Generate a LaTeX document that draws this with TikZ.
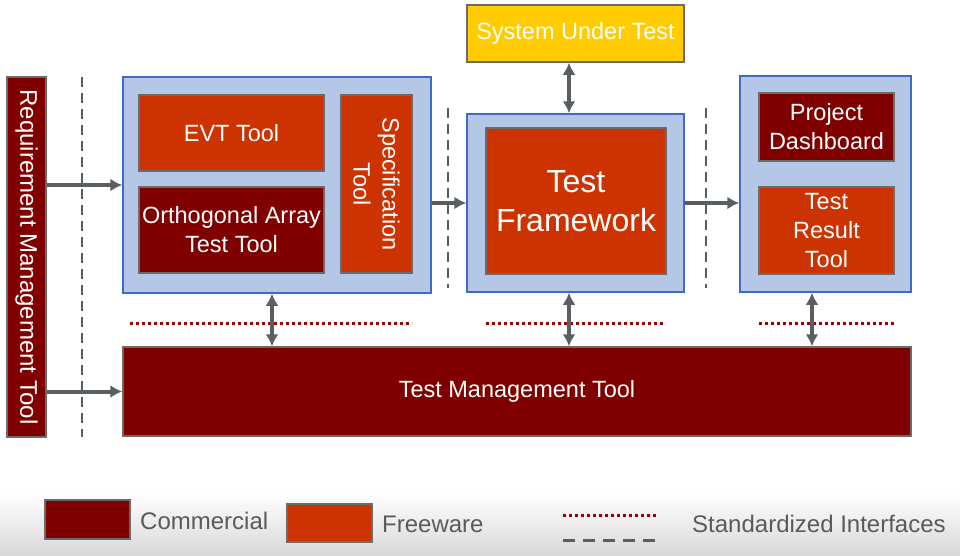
\documentclass[tikz,border=0pt]{standalone}
\usepackage{fontspec}
\setmainfont{Liberation Sans}
\usepackage{tikz}
\usetikzlibrary{arrows.meta}
\definecolor{commred}{HTML}{800000}
\definecolor{freeorange}{HTML}{CC3300}
\definecolor{groupblue}{HTML}{B4C7E7}
\definecolor{groupline}{HTML}{3E6CC0}
\definecolor{boxline}{HTML}{6B6B6B}
\definecolor{sutyellow}{HTML}{FFCC00}
\definecolor{arrowgray}{HTML}{595E62}
\definecolor{dotred}{HTML}{9A0000}
\definecolor{legendgray}{HTML}{5A5A5A}
\tikzstyle{tool}=[draw=boxline, line width=1.5pt, inner sep=0pt, text=white, align=center, font=\fontsize{23.5}{29}\selectfont]
\tikzstyle{commercial}=[tool, fill=commred]
\tikzstyle{freeware}=[tool, fill=freeorange]
\tikzstyle{group}=[draw=groupline, fill=groupblue, line width=1.5pt, inner sep=0pt]
\tikzstyle{arrow}=[draw=arrowgray, line width=4pt, >={Latex[length=12pt, width=13pt]}]
\tikzstyle{boundary}=[draw=arrowgray, line width=2pt, dash pattern=on 10pt off 6pt]
\tikzstyle{standard}=[draw=dotred, line width=3pt, dash pattern=on 3pt off 3pt]
\tikzstyle{legendtext}=[anchor=west, text=legendgray, inner sep=0pt, font=\fontsize{24}{29}\selectfont]

\begin{document}
\begin{tikzpicture}[x=1pt, y=-1pt]
		   \useasboundingbox (0, 0) rectangle (960, 555);
		   \shade [top color=white, bottom color=black!15] (0, 492) rectangle (960, 555);
		   % tools
		   \begin{scope}
			   \node (req) at (26.5, 257)[commercial, rotate=-90, minimum width=360pt, minimum height=39pt, font=\fontsize{24}{29}\selectfont] {Requirement Management Tool};
			   \node (left) at (277, 185)[group, minimum width=308pt, minimum height=216pt] {};
			   \node (evt) at (231.5, 133)[freeware, minimum width=185pt, minimum height=76pt] {EVT Tool};
			   \node (ortho) at (231.5, 230)[commercial, minimum width=185pt, minimum height=86pt] {Orthogonal Array\\Test Tool};
			   \node (spec) at (376.5, 184)[freeware, rotate=-90, minimum width=178pt, minimum height=71pt] {Specification\\Tool};
			   \node (sut) at (575.5, 33.5)[tool, fill=sutyellow, minimum width=217pt, minimum height=57pt] {System Under Test};
			   \node (mid) at (575.5, 203)[group, minimum width=217pt, minimum height=178pt] {};
			   \node (frame) at (576, 201)[freeware, minimum width=180pt, minimum height=146pt, font=\fontsize{32}{39}\selectfont] {Test\\Framework};
			   \node (right) at (825.5, 184)[group, minimum width=171pt, minimum height=216pt] {};
			   \node (dash) at (826.5, 127)[commercial, minimum width=135pt, minimum height=68pt] {Project\\Dashboard};
			   \node (result) at (826.5, 230.5)[freeware, minimum width=135pt, minimum height=87pt] {Test\\Result\\Tool};
			   \node (tmt) at (517, 391.5)[commercial, minimum width=788pt, minimum height=89pt] {Test Management Tool};
		   \end{scope}
		   % interfaces
		   \begin{scope}
			   \coordinate (b1) at (82, 77);
			   \coordinate (b2) at (448, 108);
			   \coordinate (b3) at (706, 108);
			   \draw [boundary] (b1) -- ++(0, 360);
			   \draw [boundary] (b2) -- ++(0, 180);
			   \draw [boundary] (b3) -- ++(0, 180);
			   \coordinate (s1) at (130, 323);
			   \coordinate (s2) at (486, 323);
			   \coordinate (s3) at (759, 323);
			   \draw [standard] (s1) -- ++(282, 0);
			   \draw [standard] (s2) -- ++(177, 0);
			   \draw [standard] (s3) -- ++(135, 0);
		   \end{scope}
		   \begin{scope}
			   \coordinate (v1) at (272, 0);
			   \coordinate (v2) at (569, 0);
			   \coordinate (v3) at (812, 0);
			   \draw [arrow, ->] (req.north |- left.west) -- (left.west);
			   \draw [arrow, ->] (req.north |- tmt.west) -- (tmt.west);
			   \draw [arrow, ->] (left.east |- mid.west) -- (mid.west);
			   \draw [arrow, ->] (mid.east) -- (right.west |- mid.east);
			   \draw [arrow, <->] (sut.south -| v2) -- (mid.north -| v2);
			   \draw [arrow, <->] (left.south -| v1) -- (tmt.north -| v1);
			   \draw [arrow, <->] (mid.south -| v2) -- (tmt.north -| v2);
			   \draw [arrow, <->] (right.south -| v3) -- (tmt.north -| v3);
		   \end{scope}
		   % legend
		   \begin{scope}
			   \node (lcom) at (87.5, 519.5)[commercial, line width=2pt, minimum width=85pt, minimum height=39pt] {};
			   \node (tcom) at (140, 521)[legendtext] {Commercial};
			   \node (lfree) at (329.5, 523)[freeware, line width=2pt, minimum width=85pt, minimum height=38pt] {};
			   \node (tfree) at (382, 524)[legendtext] {Freeware};
			   \coordinate (ls) at (563, 515);
			   \coordinate (lb) at (563, 540);
			   \draw [standard] (ls) -- ++(94, 0);
			   \draw [boundary, line width=3pt, dash pattern=on 12pt off 8pt] (lb) -- ++(96, 0);
			   \node (tstd) at (692, 524)[legendtext] {Standardized Interfaces};
		   \end{scope}
	   \end{tikzpicture}
\end{document}
